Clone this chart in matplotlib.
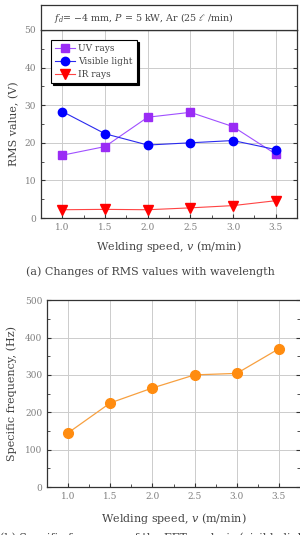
import matplotlib.pyplot as plt
from matplotlib.ticker import MultipleLocator

plt.rcParams['font.family'] = ['DejaVu Serif']
plt.rcParams['mathtext.fontset'] = 'dejavuserif'

# data
speed = [1.0, 1.5, 2.0, 2.5, 3.0, 3.5]
uv_rays = [16.7, 19.0, 26.8, 28.1, 24.3, 17.0]
visible_light = [28.3, 22.4, 19.4, 20.0, 20.6, 18.2]
ir_rays = [2.2, 2.3, 2.2, 2.7, 3.3, 4.6]
spec_freq = [145, 225, 265, 300, 304, 370]

txt = '#444444'
tk = '#808080'

fig = plt.figure(figsize=(3.0, 5.35), dpi=100)

def style(ax, ymaj, ymin):
    ax.set_xlim(0.75, 3.75)
    ax.xaxis.set_major_locator(MultipleLocator(0.5))
    ax.xaxis.set_minor_locator(MultipleLocator(0.25))
    ax.yaxis.set_major_locator(MultipleLocator(ymaj))
    ax.yaxis.set_minor_locator(MultipleLocator(ymin))
    ax.tick_params(which='both', direction='in', top=False, right=True,
                   labelsize=6.5, labelcolor=tk, color='#333333')
    ax.tick_params(which='major', length=3)
    ax.tick_params(which='minor', length=2)
    ax.xaxis.set_major_formatter(plt.FormatStrFormatter('%.1f'))
    ax.grid(True, which='major', color='#cccccc', lw=0.7)
    ax.set_axisbelow(True)
    for s in ax.spines.values():
        s.set_color('#333333')
        s.set_linewidth(0.9)

# top panel
ax1 = fig.add_axes([0.137, 0.5925, 0.853, 0.3515])
ax1.plot(speed, uv_rays, color='#a050ff', lw=0.8, marker='s', ms=5.5,
         mfc='#9a2cf5', mec='#9a2cf5', label='UV rays')
ax1.plot(speed, visible_light, color='#2a2aee', lw=0.8, marker='o', ms=6,
         mfc='#0000ff', mec='#0000ff', label='Visible light')
ax1.plot(speed, ir_rays, color='#ff4444', lw=0.8, marker='v', ms=6.5,
         mfc='#ff0000', mec='#ff0000', label='IR rays')
ax1.set_ylim(0, 50)
style(ax1, 10, 5)
ax1.set_ylabel('RMS value, (V)', fontsize=8, color=txt, labelpad=4)
ax1.set_xlabel('Welding speed, $v$ (m/min)', fontsize=8, color=txt, labelpad=5)
leg = ax1.legend(loc='upper left', bbox_to_anchor=(0.02, 0.97), fontsize=6.5,
                 fancybox=False, edgecolor='black', framealpha=1,
                 shadow={'color': 'black', 'alpha': 1, 'ox': 1.5, 'oy': -1.5},
                 handlelength=2.2, labelspacing=0.45, borderpad=0.45,
                 handletextpad=0.4)
for t in leg.get_texts():
    t.set_color(txt)
leg.get_frame().set_linewidth(0.8)

# header box
hd = fig.add_axes([0.137, 0.944, 0.853, 0.047])
hd.set_xticks([])
hd.set_yticks([])
for s in hd.spines.values():
    s.set_color('#333333')
    s.set_linewidth(0.9)
hd.text(0.05, 0.48, r'$f_d$= $-$4 mm, $P$ = 5 kW, Ar (25 $\ell$ /min)',
        fontsize=6.8, color=txt, va='center', ha='left', transform=hd.transAxes)

fig.text(0.5, 1 - 272 / 535, '(a) Changes of RMS values with wavelength',
         ha='center', va='center', fontsize=8, color=txt)

# bottom panel
ax2 = fig.add_axes([0.157, 0.0897, 0.843, 0.3493])
ax2.plot(speed, spec_freq, color='#f7a040', lw=0.9, marker='o', ms=7,
         mfc='#ff8c10', mec='#ff8c10')
ax2.set_ylim(0, 500)
style(ax2, 100, 50)
ax2.spines['right'].set_visible(False)
ax2.set_ylabel('Specific frequency, (Hz)', fontsize=8, color=txt, labelpad=6)
ax2.set_xlabel('Welding speed, $v$ (m/min)', fontsize=8, color=txt, labelpad=7)

# caption (b) is cut off at the bottom edge in the source image
fig.text(0.0, -0.006, '(b) Specific frequency of the FFT analysis (visible light)',
         ha='left', va='center', fontsize=8, color=txt)

plt.savefig('out.png', dpi=100)
